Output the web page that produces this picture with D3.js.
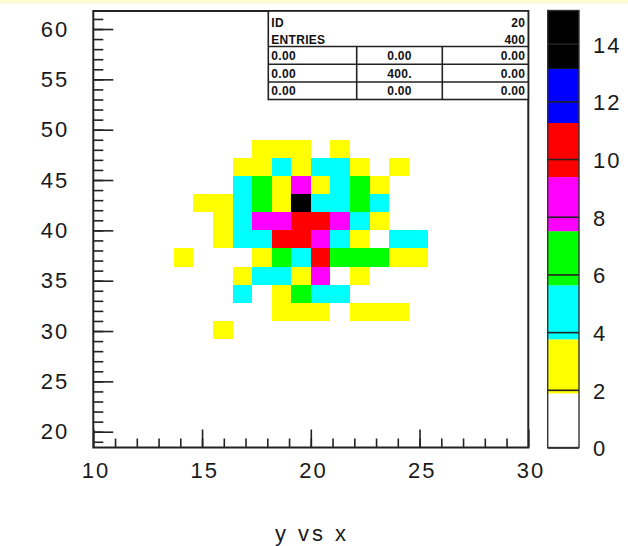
<!DOCTYPE html>
<html>
<head>
<meta charset="utf-8">
<script src="https://cdn.jsdelivr.net/npm/d3@7"></script>
<style>
  body { margin: 0; background: #fff; }
  svg { display: block; font-family: "Liberation Sans", Arial, sans-serif; }
  .axis text { font-size: 22px; fill: #1a1a1a; letter-spacing: 2px; }
  .axis line { stroke: #222; stroke-width: 1.6; }
  .stats text { font-size: 12px; font-weight: bold; fill: #111; letter-spacing: 0.3px; }
</style>
</head>
<body>
<div id="chart"></div>
<script>
  // histogram binning (x: 20 bins 11..29, y: 20 bins 22..58)
  const xBinLow = 11, xBinWidth = 0.9;
  const yBinLow = 22, yBinWidth = 1.8;

  // y bin index of each row, top to bottom
  const rowBins = [14, 13, 12, 11, 10, 9, 8, 7, 6, 5, 4];
  // first x bin index of each row array
  const colStart = 3;
  // counts per cell, columns are x bins 3..15
  const counts = [
    [0, 0, 0, 0, 3, 2, 3, 0, 2, 0, 0, 0, 0],
    [0, 0, 0, 2, 3, 4, 2, 5, 4, 3, 1, 2, 0],
    [0, 0, 0, 5, 6, 3, 8, 3, 4, 7, 2, 0, 0],
    [0, 2, 2, 4, 7, 3, 15, 5, 5, 6, 4, 0, 0],
    [0, 1, 3, 5, 8, 9, 11, 10, 8, 4, 3, 0, 0],
    [0, 0, 3, 4, 5, 10, 11, 9, 5, 2, 1, 4, 4],
    [2, 0, 1, 1, 3, 6, 4, 10, 7, 6, 6, 3, 2],
    [0, 0, 1, 2, 4, 5, 3, 8, 1, 2, 0, 0, 0],
    [0, 0, 0, 4, 1, 2, 6, 4, 5, 1, 0, 0, 0],
    [0, 0, 0, 0, 1, 3, 2, 2, 1, 2, 3, 2, 0],
    [0, 0, 2, 0, 0, 0, 1, 0, 0, 0, 0, 0, 0]
  ];

  const levelColors = ["#ffffff", "#ffff00", "#00ffff", "#00ff00", "#ff00ff", "#ff0000", "#0000ff", "#000000"];
  const countMax = 15;
  const colorTicks = [0, 2, 4, 6, 8, 10, 12, 14];

  const xTicks = [10, 15, 20, 25, 30];
  const yTicks = [20, 25, 30, 35, 40, 45, 50, 55, 60];

  const statsHead = [["ID", "20"], ["ENTRIES", "400"]];
  const statsRows = [
    ["0.00", "0.00", "0.00"],
    ["0.00", "400.", "0.00"],
    ["0.00", "0.00", "0.00"]
  ];
  const title = "y vs x";

  const width = 628, height = 546;
  const svg = d3.select("#chart").append("svg")
    .attr("width", width)
    .attr("height", height);

  // thin light band at the top
  svg.append("rect")
    .attr("x", 0).attr("y", 0)
    .attr("width", width).attr("height", 3.5)
    .attr("fill", "#fdfbd2");

  const x = d3.scaleLinear().domain([10, 30]).range([93.3, 528.3]);
  const y = d3.scaleLinear().domain([18.43, 61.79]).range([447.5, 11]);

  const color = d3.scaleQuantize().domain([0, countMax]).range(levelColors);

  // flatten cells
  const cells = [];
  counts.forEach((row, r) => {
    row.forEach((c, k) => {
      cells.push({ i: colStart + k, j: rowBins[r], c: c });
    });
  });

  svg.append("g")
    .selectAll("rect")
    .data(cells.filter(d => color(d.c) !== levelColors[0]))
    .join("rect")
    .attr("x", d => x(xBinLow + d.i * xBinWidth))
    .attr("y", d => y(yBinLow + (d.j + 1) * yBinWidth))
    .attr("width", d => x(xBinLow + (d.i + 1) * xBinWidth) - x(xBinLow + d.i * xBinWidth))
    .attr("height", d => y(yBinLow + d.j * yBinWidth) - y(yBinLow + (d.j + 1) * yBinWidth))
    .attr("fill", d => color(d.c))
    .attr("shape-rendering", "crispEdges");

  // axes: major + minor ticks drawn inward
  const gx = svg.append("g").attr("class", "axis")
    .attr("transform", `translate(0,${y.range()[0]})`)
    .call(d3.axisBottom(x).tickValues(xTicks).tickSize(-18).tickPadding(15).tickFormat(d3.format("d")));
  svg.append("g").attr("class", "axis")
    .attr("transform", `translate(0,${y.range()[0]})`)
    .call(d3.axisBottom(x).tickValues(d3.range(11, 30)).tickSize(-9).tickFormat(""));

  const gy = svg.append("g").attr("class", "axis")
    .attr("transform", `translate(${x.range()[0]},0)`)
    .call(d3.axisLeft(y).tickValues(yTicks).tickSize(-20).tickPadding(24).tickFormat(d3.format("d")));
  svg.append("g").attr("class", "axis")
    .attr("transform", `translate(${x.range()[0]},0)`)
    .call(d3.axisLeft(y).tickValues(d3.range(19, 62)).tickSize(-10).tickFormat(""));

  svg.selectAll(".axis .domain").remove();
  gx.selectAll("text").attr("dx", "0.1em");

  // frame
  svg.append("rect")
    .attr("x", x.range()[0]).attr("y", y.range()[1])
    .attr("width", x.range()[1] - x.range()[0])
    .attr("height", y.range()[0] - y.range()[1])
    .attr("fill", "none")
    .attr("stroke", "#222")
    .attr("stroke-width", 2);

  // stats box
  const bx0 = 268.3, bx1 = 528.3, colA = 356.7, colB = 442.3;
  const headLines = [11, 46.5];
  const rowLines = [46.5, 64.3, 82, 99.5];
  const stats = svg.append("g").attr("class", "stats");
  stats.append("rect")
    .attr("x", bx0).attr("y", headLines[0])
    .attr("width", bx1 - bx0).attr("height", rowLines[3] - headLines[0])
    .attr("fill", "#fff").attr("stroke", "#222").attr("stroke-width", 1.6);
  rowLines.slice(0, 3).forEach(ly => {
    stats.append("line").attr("x1", bx0).attr("x2", bx1).attr("y1", ly).attr("y2", ly)
      .attr("stroke", "#222").attr("stroke-width", 1.6);
  });
  [colA, colB].forEach(lx => {
    stats.append("line").attr("x1", lx).attr("x2", lx).attr("y1", rowLines[0]).attr("y2", rowLines[3])
      .attr("stroke", "#222").attr("stroke-width", 1.6);
  });
  const headY = [22.5, 39.5];
  statsHead.forEach((h, k) => {
    stats.append("text").attr("x", bx0 + 3).attr("y", headY[k]).attr("dominant-baseline", "central").text(h[0]);
    stats.append("text").attr("x", bx1 - 3).attr("y", headY[k]).attr("dominant-baseline", "central")
      .attr("text-anchor", "end").text(h[1]);
  });
  statsRows.forEach((r, k) => {
    const ry = (rowLines[k] + rowLines[k + 1]) / 2 + 0.5;
    stats.append("text").attr("x", bx0 + 3).attr("y", ry).attr("dominant-baseline", "central").text(r[0]);
    stats.append("text").attr("x", (colA + colB) / 2).attr("y", ry).attr("dominant-baseline", "central")
      .attr("text-anchor", "middle").text(r[1]);
    stats.append("text").attr("x", bx1 - 3).attr("y", ry).attr("dominant-baseline", "central")
      .attr("text-anchor", "end").text(r[2]);
  });

  // colour bar
  const cbx0 = 547.7, cbx1 = 579;
  const cy = d3.scaleLinear().domain([0, 15.15]).range([447.5, 10.5]);
  const edges = [0].concat(color.thresholds(), [cy.domain()[1]]);
  svg.append("g")
    .selectAll("rect")
    .data(levelColors)
    .join("rect")
    .attr("x", cbx0)
    .attr("y", (d, k) => cy(edges[k + 1]))
    .attr("width", cbx1 - cbx0)
    .attr("height", (d, k) => cy(edges[k]) - cy(edges[k + 1]))
    .attr("fill", d => d);

  const gc = svg.append("g").attr("class", "axis")
    .attr("transform", `translate(${cbx1},0)`)
    .call(d3.axisRight(cy).tickValues(colorTicks).tickSize(-(cbx1 - cbx0)).tickPadding(14).tickFormat(d3.format("d")));
  gc.select(".domain").remove();
  gc.selectAll("text").attr("dy", "0.38em");
  gc.selectAll("line").attr("stroke", "#000").attr("stroke-width", 1.4);

  svg.append("rect")
    .attr("x", cbx0).attr("y", cy.range()[1])
    .attr("width", cbx1 - cbx0).attr("height", cy.range()[0] - cy.range()[1])
    .attr("fill", "none").attr("stroke", "#333").attr("stroke-width", 1.4);

  // title
  svg.append("text")
    .attr("x", 312).attr("y", 541)
    .attr("text-anchor", "middle")
    .attr("font-size", 22)
    .attr("letter-spacing", "3px")
    .attr("fill", "#1a1a1a")
    .text(title);
</script>
</body>
</html>
